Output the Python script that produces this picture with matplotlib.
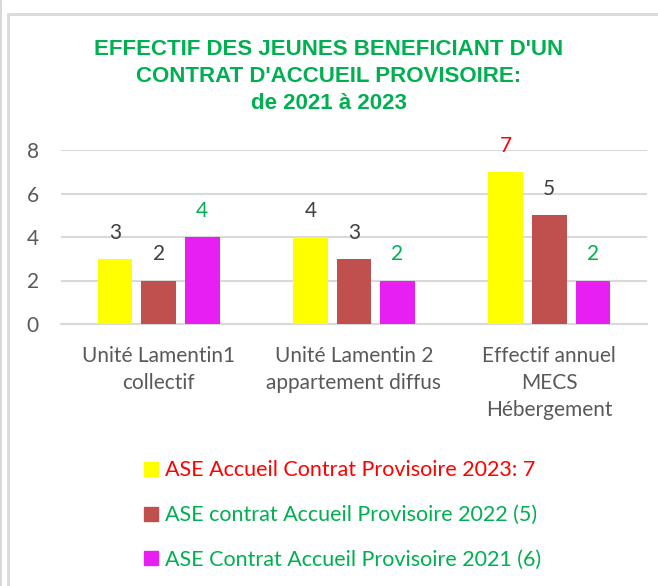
import matplotlib.pyplot as plt
from matplotlib.patches import Rectangle
from matplotlib.lines import Line2D
import numpy as np

categories = ["Unité Lamentin1\ncollectif",
              "Unité Lamentin 2\nappartement diffus",
              "Effectif annuel\nMECS\nHébergement"]
series_names = ["ASE Accueil Contrat Provisoire 2023: 7",
                "ASE contrat Accueil Provisoire 2022 (5)",
                "ASE Contrat Accueil Provisoire 2021 (6)"]
values_2023 = [3, 4, 7]
values_2022 = [2, 3, 5]
values_2021 = [4, 2, 2]
yticks = [0, 2, 4, 6, 8]

colors = ["#FFFF00", "#C0504D", "#E81FF2"]
label_colors_2023 = ["#404040", "#404040", "#FF0000"]
label_colors_2022 = ["#404040", "#404040", "#404040"]
label_colors_2021 = ["#00B050", "#00B050", "#00B050"]
legend_colors = ["#FF0000", "#00B050", "#00B050"]
GREEN = "#00B050"
GRAY = "#595959"
FONT = "Lato"

fig = plt.figure(figsize=(6.58, 5.86), dpi=100)
W, H = 658, 586

# outer frame
fig.patches.append(Rectangle((8 / W, -0.05), 1.1, (H - 14) / H + 0.05,
                             transform=fig.transFigure, fill=False,
                             edgecolor="#D9D9D9", linewidth=2))
fig.add_artist(Line2D([0.5 / W, 0.5 / W], [0, 1], color="#D9D9D9", linewidth=1.5))

ax = fig.add_axes([61 / W, (H - 324) / H, 586 / W, 174 / H])
x = np.arange(len(categories))
width = 0.177
step = 0.223
series = [values_2023, values_2022, values_2021]
label_cols = [label_colors_2023, label_colors_2022, label_colors_2021]
for i, (vals, col, lcols, name) in enumerate(zip(series, colors, label_cols, series_names)):
    xs = x + (i - 1) * step
    ax.bar(xs, vals, width, color=col, label=name, zorder=3)
    for xi, v, lc in zip(xs, vals, lcols):
        ax.text(xi, v + 1.2, str(v), ha="center", va="center", color=lc,
                fontsize=15, family=FONT, clip_on=False)

ax.set_xlim(-0.5, 2.5)
ax.set_ylim(0, 8)
ax.set_yticks(yticks)
ax.yaxis.grid(True, color="#D9D9D9", linewidth=1.5, zorder=0)
ax.set_axisbelow(True)
for s in ["top", "right", "left"]:
    ax.spines[s].set_visible(False)
ax.spines["bottom"].set_color("#D9D9D9")
ax.spines["bottom"].set_linewidth(1.5)
ax.tick_params(axis="both", length=0, colors=GRAY, labelsize=15)
ax.tick_params(axis="y", pad=16)
ax.tick_params(axis="x", pad=16)
ax.set_xticks(x)
ax.set_xticklabels(categories, family=FONT, linespacing=1.42)
for lab in ax.get_yticklabels():
    lab.set_family(FONT)

fig.text(0.5, (H - 39) / H,
         "EFFECTIF DES JEUNES BENEFICIANT D'UN\nCONTRAT D'ACCUEIL PROVISOIRE:\nde 2021 à 2023",
         ha="center", va="top", color=GREEN, fontsize=16, fontweight="bold",
         family="Liberation Sans", linespacing=1.36)

handles = [Rectangle((0, 0), 1, 1, color=c) for c in colors]
leg = fig.legend(handles, series_names, loc="upper left",
                 bbox_to_anchor=(125 / W, (H - 441) / H), frameon=False,
                 handlelength=0.62, handleheight=0.62, handletextpad=0.35,
                 labelspacing=1.15, prop={"family": FONT, "size": 15.5})
for t, c in zip(leg.get_texts(), legend_colors):
    t.set_color(c)

fig.savefig("out.png", dpi=100)
